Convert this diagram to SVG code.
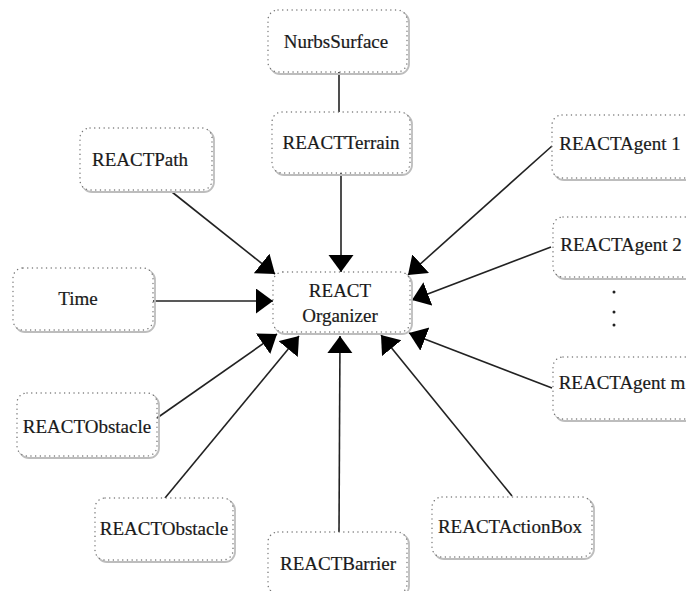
<svg xmlns="http://www.w3.org/2000/svg" width="686" height="591" viewBox="0 0 686 591">
  <style>
    .shadow { fill: none; stroke: #bdbdbd; stroke-width: 1.8; }
    .box { fill: #ffffff; stroke: #777777; stroke-width: 1.4; stroke-dasharray: 0.1 4.6; stroke-linecap: round; }
    .label { font-family: "Liberation Serif", "Times New Roman", serif; font-size: 19px; fill: #1a1a1a; text-anchor: middle; stroke: #1a1a1a; stroke-width: 0.2; }
    .edge { stroke: #222222; stroke-width: 1.6; fill: none; }
    .arrow { stroke: #222222; stroke-width: 1.6; fill: none; marker-end: url(#head); }
    .dot { fill: #222222; }
  </style>
  <defs>
    <marker id="head" markerUnits="userSpaceOnUse" markerWidth="18" markerHeight="26" refX="17" refY="12.5" orient="auto" viewBox="0 0 18 26">
      <path d="M0,0 L17,12.5 L0,25 Z" fill="#000000"/>
    </marker>
  </defs>

  <rect width="686" height="591" fill="#ffffff"/>

  <!-- connectors -->
  <g id="connectors">
    <line class="edge" x1="339" y1="72" x2="339" y2="112"/>
    <line class="arrow" x1="341" y1="173" x2="341" y2="272"/>
    <line class="arrow" x1="172" y1="192" x2="275" y2="274"/>
    <line class="arrow" x1="153" y1="301" x2="273" y2="301"/>
    <line class="arrow" x1="157" y1="418" x2="277" y2="334"/>
    <line class="arrow" x1="165" y1="498" x2="299" y2="336"/>
    <line class="arrow" x1="339" y1="532" x2="340" y2="336"/>
    <line class="arrow" x1="512" y1="496" x2="381" y2="335"/>
    <line class="arrow" x1="552" y1="146" x2="408" y2="275"/>
    <line class="arrow" x1="551" y1="247" x2="412" y2="300"/>
    <line class="arrow" x1="552" y1="388" x2="409" y2="333"/>
  </g>

  <!-- nodes -->
  <g id="nurbs-surface">
    <rect class="shadow" x="270" y="12" width="139" height="62" rx="10"/>
    <rect class="box" x="268" y="10" width="139" height="62" rx="10"/>
    <text class="label" x="336" y="48">NurbsSurface</text>
  </g>

  <g id="react-terrain">
    <rect class="shadow" x="274" y="114" width="138" height="61" rx="10"/>
    <rect class="box" x="272" y="112" width="138" height="61" rx="10"/>
    <text class="label" x="341" y="149">REACTTerrain</text>
  </g>

  <g id="react-path">
    <rect class="shadow" x="82" y="130" width="132" height="62" rx="10"/>
    <rect class="box" x="80" y="128" width="132" height="62" rx="10"/>
    <text class="label" x="140" y="166">REACTPath</text>
  </g>

  <g id="time">
    <rect class="shadow" x="15" y="270" width="140" height="62" rx="10"/>
    <rect class="box" x="13" y="268" width="140" height="62" rx="10"/>
    <text class="label" x="78" y="305">Time</text>
  </g>

  <g id="react-organizer">
    <rect class="shadow" x="275" y="274" width="137" height="60" rx="10"/>
    <rect class="box" x="273" y="272" width="137" height="60" rx="10"/>
    <text class="label" x="340" y="297">REACT</text>
    <text class="label" x="340" y="322">Organizer</text>
  </g>

  <g id="react-obstacle-1">
    <rect class="shadow" x="19" y="395" width="140" height="63" rx="10"/>
    <rect class="box" x="17" y="393" width="140" height="63" rx="10"/>
    <text class="label" x="87" y="433">REACTObstacle</text>
  </g>

  <g id="react-obstacle-2">
    <rect class="shadow" x="97" y="500" width="138" height="62" rx="10"/>
    <rect class="box" x="95" y="498" width="138" height="62" rx="10"/>
    <text class="label" x="164" y="535">REACTObstacle</text>
  </g>

  <g id="react-barrier">
    <rect class="shadow" x="270" y="534" width="139" height="62" rx="10"/>
    <rect class="box" x="268" y="532" width="139" height="62" rx="10"/>
    <text class="label" x="338" y="570">REACTBarrier</text>
  </g>

  <g id="react-action-box">
    <rect class="shadow" x="434" y="499" width="160" height="60" rx="10"/>
    <rect class="box" x="432" y="497" width="160" height="60" rx="10"/>
    <text class="label" x="510" y="533">REACTActionBox</text>
  </g>

  <g id="react-agent-1">
    <rect class="shadow" x="554" y="117" width="150" height="63" rx="10"/>
    <rect class="box" x="552" y="115" width="150" height="63" rx="10"/>
    <text class="label" x="620" y="150">REACTAgent 1</text>
  </g>

  <g id="react-agent-2">
    <rect class="shadow" x="555" y="219" width="150" height="60" rx="10"/>
    <rect class="box" x="553" y="217" width="150" height="60" rx="10"/>
    <text class="label" x="621" y="251">REACTAgent 2</text>
  </g>

  <!-- ellipsis between agent 2 and agent m -->
  <g id="agent-ellipsis">
    <circle class="dot" cx="614" cy="292" r="1.5"/>
    <circle class="dot" cx="614" cy="312" r="1.5"/>
    <circle class="dot" cx="614" cy="325" r="1.5"/>
  </g>

  <g id="react-agent-m">
    <rect class="shadow" x="555" y="359" width="150" height="62" rx="10"/>
    <rect class="box" x="553" y="357" width="150" height="62" rx="10"/>
    <text class="label" x="622" y="389">REACTAgent m</text>
  </g>
</svg>
